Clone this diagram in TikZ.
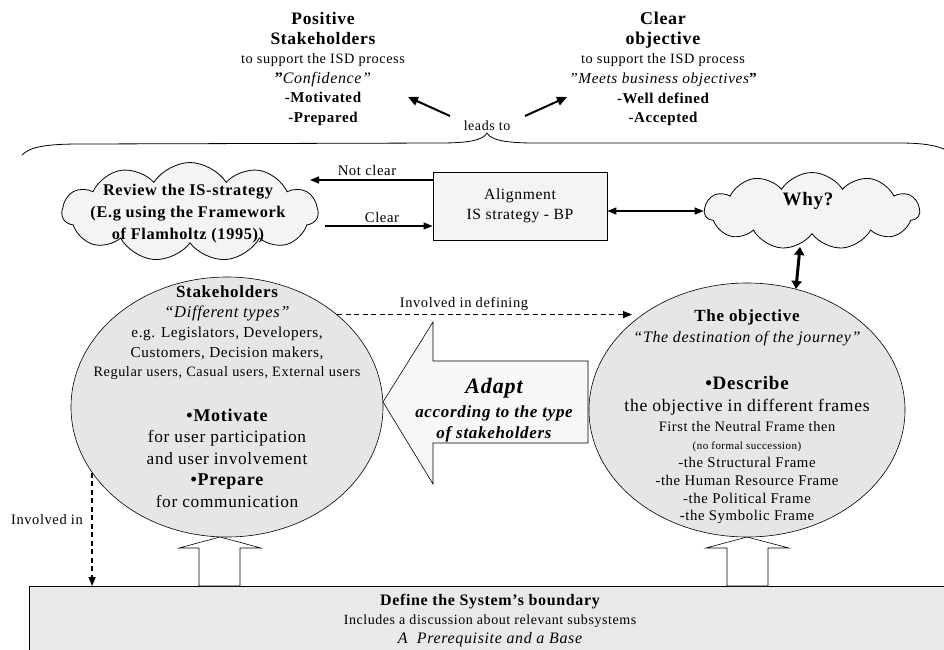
\documentclass[tikz,border=0pt]{standalone}
\usepackage{fontspec}
\setmainfont{Liberation Serif}[LetterSpace=4]
\usetikzlibrary{shapes.symbols,shapes.geometric,arrows.meta}
\definecolor{ellgray}{RGB}{230,230,230}
\definecolor{cloudgray}{RGB}{244,244,244}
\definecolor{boxgray}{RGB}{244,244,244}
\definecolor{basegray}{RGB}{233,233,233}
\definecolor{adaptfill}{RGB}{247,247,247}
\newcommand\mycurskip{19}
\newcommand\mysz[1]{\fontsize{#1}{\mycurskip}\selectfont}
\begin{document}
\begin{tikzpicture}[x=1pt,y=-1pt,
  txt/.style={align=center, inner sep=0pt, font={\renewcommand\mycurskip{#1}\fontsize{14}{#1}\selectfont}},
  lbl/.style={inner sep=0pt, font=\fontsize{#1}{#1}\selectfont},
  arr/.style={line width=1.3pt, -{Triangle[length=9pt,width=7pt]}},
  darr/.style={line width=1.3pt, {Triangle[length=9pt,width=7pt]}-{Triangle[length=9pt,width=7pt]}},
  toparr/.style={line width=2pt, -{Triangle[length=10pt,width=9pt]}},
  thkarr/.style={line width=3pt, {Triangle[length=8pt,width=10pt]}-{Triangle[length=8pt,width=10pt]}},
  dsh/.style={dash pattern=on 5pt off 3.5pt},
  ell/.style={ellipse, draw, line width=0.6pt, fill=ellgray, inner sep=0pt},
  cl/.style={cloud, draw, line width=0.8pt, fill=cloudgray, cloud puffs=11, cloud puff arc=115, inner sep=0pt},
  hol/.style={draw, line width=0.6pt, fill=white},
]
\useasboundingbox (0,0) rectangle (944,649);

% base box
\node[draw, fill=basegray, line width=0.6pt, minimum width=930pt, minimum height=80pt, anchor=north west, inner sep=0pt] (sys) at (29,586) {};
\node[txt=19] (syst) at (490,621) {\mysz{16}\bfseries Define the System’s boundary\\ \mysz{14}Includes a discussion about relevant subsystems\\ \mysz{16}\itshape A\ \ Prerequisite and a Base};

% hollow arrows
\draw[hol] (220,537) -- (261,548) -- (240,548) -- (240,586) -- (199,586) -- (199,548) -- (179,548) -- cycle;
\draw[hol] (747,537) -- (789,548) -- (768,548) -- (768,586) -- (727,586) -- (727,548) -- (706,548) -- cycle;

% ellipses
\node[ell, minimum width=312pt, minimum height=260pt] (sh) at (227,407) {};
\node[ell, minimum width=316pt, minimum height=254pt] (obj) at (747,410) {};

% adapt arrow
\draw[line width=0.6pt, fill=adaptfill] (383,402) -- (433,322) -- (433,361) -- (588,361) -- (588,443) -- (433,443) -- (433,484) -- cycle;
\node[txt=21] (adt) at (494,410) {\mysz{22}\bfseries\itshape Adapt\\[3pt] \mysz{17}\bfseries\itshape according to the type\\ \mysz{17}\bfseries\itshape of stakeholders};

% clouds and alignment box
\node[cl, aspect=2.6, minimum width=256pt, minimum height=99pt] (rev) at (190,212) {};
\node[txt=22] (revt) at (188,214) {\mysz{16.3}\bfseries Review the IS-strategy\\ \mysz{16.3}\bfseries (E.g using the Framework\\ \mysz{16.3}\bfseries of Flamholtz (1995))};
\node[cl, aspect=2.8, minimum width=215pt, minimum height=77pt] (why) at (812,211) {};
\node[lbl=19, font=\fontsize{19}{22}\selectfont\bfseries] (whyt) at (808,201) {Why?};
\node[draw, fill=boxgray, line width=0.8pt, minimum width=174pt, minimum height=68pt, txt=20] (algn) at (520,206) {\mysz{15.6}Alignment\\ \mysz{15.6}IS strategy - BP};

% top texts
\node[txt=19.6] (pos) at (323,69) {\mysz{17.5}\bfseries Positive\\ \mysz{17.5}\bfseries Stakeholders\\ \mysz{14.3}to support the ISD process\\ \mysz{16}{\bfseries ”}\itshape Confidence”\\ \mysz{15}\bfseries -Motivated\\ \mysz{15}\bfseries -Prepared};
\node[txt=19.6] (clr) at (663,69) {\mysz{18}\bfseries Clear\\ \mysz{18}\bfseries objective\\ \mysz{14.3}to support the ISD process\\ \mysz{15.3}\itshape ”Meets business objectives{\upshape\bfseries ”}\\ \mysz{15}\bfseries -Well defined\\ \mysz{15}\bfseries -Accepted};
\node[lbl=14] (leads) at (487,126) {leads to};
\coordinate (la1) at (450,116);
\coordinate (la2) at (408,97);
\coordinate (ra1) at (525,116);
\coordinate (ra2) at (567,97);
\draw[toparr] (la1) -- (la2);
\draw[toparr] (ra1) -- (ra2);

% brace
\draw[line width=0.8pt] (22,155) .. controls (30,147) and (45,144) .. (80,144) -- (440,143) .. controls (470,143) and (483,140) .. (487,133) .. controls (491,140) and (505,143) .. (535,143) -- (900,143) .. controls (925,143) and (938,146) .. (946,150);

% stakeholder texts
\node[txt=19.7] (sht1) at (227,333) {\mysz{17}\bfseries Stakeholders\\ \mysz{16.5}\itshape “Different types”\\ \mysz{15.2}e.g. Legislators, Developers,\\ \mysz{15.2}Customers, Decision makers,\\ \mysz{14.3}Regular users, Casual users, External users};
\node[txt=21.5] (sht2) at (227,458) {\mysz{18}\bfseries •Motivate\\ \mysz{17.3}for user participation\\ \mysz{17.3}and user involvement\\ \mysz{18}\bfseries •Prepare\\ \mysz{17.3}for communication};

% objective texts
\node[txt=21] (objt1) at (747,328) {\mysz{17}\bfseries The objective\\ \mysz{16}\itshape “The destination of the journey”};
\node[txt=21.5] (objt2) at (747,396) {\mysz{19}\bfseries •Describe\\ \mysz{17.6}the objective in different frames};
\node[txt=17.8] (objt3) at (747,473) {\mysz{14.4}First the Neutral Frame then\\ \mysz{11}(no formal succession)\\ \mysz{14.8}-the Structural Frame\\ \mysz{14.8}-the Human Resource Frame\\ \mysz{14.8}-the Political Frame\\ \mysz{14.8}-the Symbolic Frame};

% connectors
\coordinate (ncE) at (310,180);
\coordinate (clS) at (325,226);
\draw[arr] (algn.west |- ncE) -- (ncE);
\draw[arr] (clS) -- (algn.west |- clS);
\node[lbl=14.7] (ncl) at (367,170) {Not clear};
\node[lbl=14.7] (cll) at (382,217) {Clear};
\draw[darr] (algn.east |- why.west) -- (why.west);
\coordinate (thkS) at (800,247);
\draw[thkarr] (thkS) -- (obj.68);
\coordinate (dtip) at (632,0);
\draw[arr, dsh] (sh.40) -- (sh.40 -| dtip);
\node[lbl=14.5] (idef) at (464,304) {Involved in defining};
\draw[arr, dsh] (sh.206) -- (sh.206 |- sys.north);
\node[lbl=14.5] (inv) at (47,520) {Involved in};
\end{tikzpicture}
\end{document}
